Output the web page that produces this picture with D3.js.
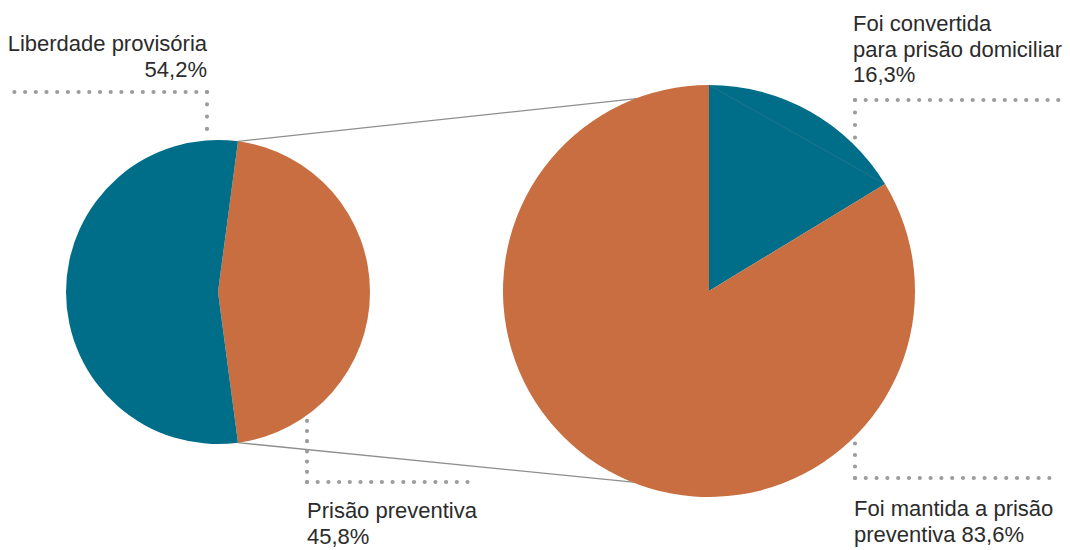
<!DOCTYPE html>
<html>
<head>
<meta charset="utf-8">
<script src="https://cdn.jsdelivr.net/npm/d3@7"></script>
<style>
  html, body { margin: 0; padding: 0; background: #fff; }
  svg { display: block; }
  text { font-family: "Liberation Sans", Arial, sans-serif; font-size: 22px; fill: #2b2b2b; }
</style>
</head>
<body>
<svg id="chart" width="1070" height="550"></svg>
<script>
// ---- data ----
const leftCategories = ["Prisão preventiva", "Liberdade provisória"];
const leftValues = [45.8, 54.2];
const rightCategories = ["Foi convertida para prisão domiciliar", "Foi mantida a prisão preventiva"];
const rightValues = [16.3, 83.6];
const leftLabels = [["Prisão preventiva", "45,8%"], ["Liberdade provisória", "54,2%"]];
const rightLabels = [["Foi convertida", "para prisão domiciliar", "16,3%"], ["Foi mantida a prisão", "preventiva 83,6%"]];

const TEAL = "#006e89", ORANGE = "#c86e41", DOT = "#9c9c9c", LINE = "#8e8e8e";

const svg = d3.select("#chart");

// geometry
const L = {cx: 218, cy: 292, r: 152};
const R = {cx: 709, cy: 291, r: 206};

// left pie: orange slice centred on the right side
const leftTotal = d3.sum(leftValues);
const orangeSpan = leftValues[0] / leftTotal * 2 * Math.PI;
const leftStart = Math.PI / 2 - orangeSpan / 2;
const leftPie = d3.pie().sort(null).value(d => d)
  .startAngle(leftStart).endAngle(leftStart + 2 * Math.PI);
const leftArcs = leftPie(leftValues);
const leftArc = d3.arc().innerRadius(0).outerRadius(L.r);

// right pie: starts at top
const rightPie = d3.pie().sort(null).value(d => d)
  .startAngle(0).endAngle(2 * Math.PI);
const rightArcs = rightPie(rightValues);
const rightArc = d3.arc().innerRadius(0).outerRadius(R.r);

const pt = (c, a, r) => [c.cx + r * Math.sin(a), c.cy - r * Math.cos(a)];

// connector lines (drawn behind the right pie)
const topA = pt(L, leftArcs[0].startAngle, L.r);
const botA = pt(L, leftArcs[0].endAngle, L.r);
const topB = pt(R, -20 * Math.PI / 180, R.r - 1);
const botB = pt(R, Math.PI + 21 * Math.PI / 180, R.r - 1);
svg.append("line").attr("x1", topA[0]).attr("y1", topA[1]).attr("x2", topB[0]).attr("y2", topB[1])
  .attr("stroke", LINE).attr("stroke-width", 1.3);
svg.append("line").attr("x1", botA[0]).attr("y1", botA[1]).attr("x2", botB[0]).attr("y2", botB[1])
  .attr("stroke", LINE).attr("stroke-width", 1.3);

// left pie
svg.append("g").attr("transform", `translate(${L.cx},${L.cy})`)
  .selectAll("path").data(leftArcs).join("path")
  .attr("d", leftArc)
  .attr("fill", (d, i) => i === 0 ? ORANGE : TEAL);

// right pie
const gR = svg.append("g").attr("transform", `translate(${R.cx},${R.cy})`);
gR.selectAll("path").data(rightArcs).join("path")
  .attr("d", rightArc)
  .attr("fill", (d, i) => i === 0 ? TEAL : ORANGE);
// faint chord artifact inside the teal slice
const c0 = [R.r * Math.sin(rightArcs[0].startAngle), -R.r * Math.cos(rightArcs[0].startAngle)];
const c1 = [R.r * Math.sin(rightArcs[0].endAngle), -R.r * Math.cos(rightArcs[0].endAngle)];
gR.append("line").attr("x1", c0[0]).attr("y1", c0[1]).attr("x2", c1[0]).attr("y2", c1[1])
  .attr("stroke", "#4f7f8c").attr("stroke-width", 0.7).attr("opacity", 0.6);

// dotted leaders
function dotted(x1, y1, x2, y2, gap) {
  svg.append("line").attr("x1", x1).attr("y1", y1).attr("x2", x2).attr("y2", y2)
    .attr("stroke", DOT).attr("stroke-width", 4.2).attr("stroke-linecap", "round")
    .attr("stroke-dasharray", `0 ${gap}`);
}
// Liberdade provisória
dotted(207, 92, 9, 92, 10.7);
dotted(207, 92, 207, 130, 12.3);
// Prisão preventiva
dotted(307, 482, 307, 411, 10.2);
dotted(307, 482, 477, 482, 10.7);
// Foi convertida
dotted(855, 100, 1068, 100, 10.7);
dotted(855, 100, 855, 139, 12.5);
// Foi mantida
dotted(855, 478, 855, 432, 11.5);
dotted(855, 478, 1050, 478, 10.8);

// labels
function label(lines, x, y, anchor, lh) {
  const t = svg.append("text").attr("x", x).attr("y", y).attr("text-anchor", anchor);
  lines.forEach((s, i) => t.append("tspan").attr("x", x).attr("dy", i === 0 ? 0 : lh).text(s));
}
label(leftLabels[1], 207, 51, "end", 26.3);
label(leftLabels[0], 307, 518, "start", 26);
label(rightLabels[0], 853, 31, "start", 25.7);
label(rightLabels[1], 854, 516, "start", 25.8);
</script>
</body>
</html>
